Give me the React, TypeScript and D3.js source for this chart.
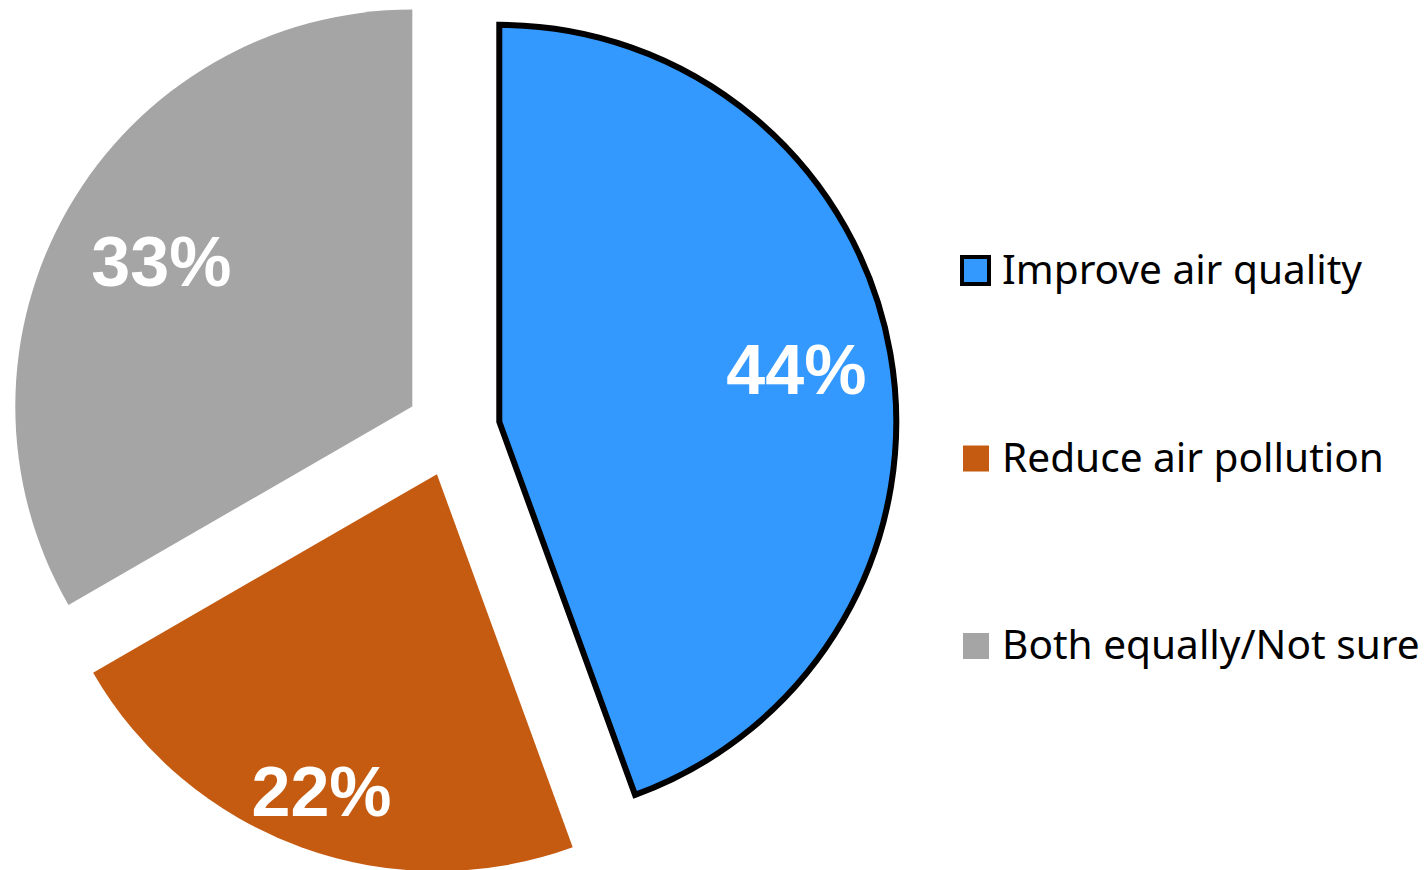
import React from "react";
import * as d3 from "d3";

const categories = ["Improve air quality", "Reduce air pollution", "Both equally/Not sure"];
const values = [44, 22, 33];
const labels = ["44%", "22%", "33%"];
const colors = ["#3399FF", "#C55A11", "#A5A5A5"];

const W = 1427;
const H = 870;
const cx = 453;
const cy = 430;
const R = 397;
const explode = 47;
const labelFrac = [0.76, 0.85, 0.73];

export default function App() {
  const pie = d3.pie<number>().sort(null).value((d) => d)(values);
  const arc = d3.arc<d3.PieArcDatum<number>>().innerRadius(0).outerRadius(R);
  const legendY = d3.scalePoint<string>().domain(categories).range([271, 646]);

  return (
    <svg
      width={W}
      height={H}
      style={{ position: "absolute", left: 0, top: 0, background: "#fff" }}
    >
      <g transform={`translate(${cx},${cy})`}>
        {pie.map((p, i) => {
          const mid = (p.startAngle + p.endAngle) / 2;
          const ox = Math.sin(mid) * explode;
          const oy = -Math.cos(mid) * explode;
          const lr = R * labelFrac[i];
          return (
            <g key={i} transform={`translate(${ox},${oy})`}>
              <path
                d={arc(p) || ""}
                fill={colors[i]}
                stroke={i === 0 ? "#000" : "none"}
                strokeWidth={i === 0 ? 6 : 0}
                strokeLinejoin="miter"
              />
              <text
                x={Math.sin(mid) * lr}
                y={-Math.cos(mid) * lr}
                dy="0.35em"
                textAnchor="middle"
                fill="#fff"
                fontFamily="'Liberation Sans', Arial, sans-serif"
                fontWeight="bold"
                fontSize={70}
              >
                {labels[i]}
              </text>
            </g>
          );
        })}
      </g>
      <g>
        {categories.map((c, i) => {
          const y = legendY(c) as number;
          const first = i === 0;
          return (
            <g key={c}>
              <rect
                x={first ? 962 : 963}
                y={first ? y - 14 : y - 13}
                width={first ? 27 : 26}
                height={first ? 27 : 26}
                fill={colors[i]}
                stroke={first ? "#000" : "none"}
                strokeWidth={first ? 4 : 0}
              />
              <text
                x={1002}
                y={y + 13}
                fill="#000"
                fontFamily="'Noto Sans', 'Open Sans', sans-serif"
                fontSize={40.6}
              >
                {c}
              </text>
            </g>
          );
        })}
      </g>
    </svg>
  );
}
